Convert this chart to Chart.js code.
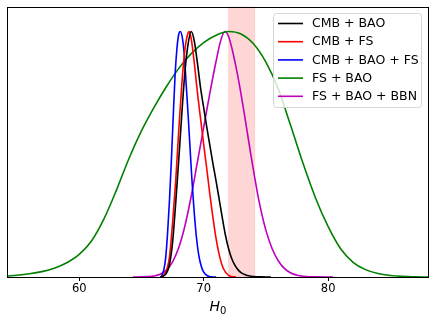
<!DOCTYPE html>
<html>
<head>
<meta charset="utf-8">
<script src="https://cdn.jsdelivr.net/npm/chart.js@4"></script>
<style>
  html, body { margin: 0; padding: 0; background: #fff; }
  #wrap { width: 436px; height: 323px; position: relative; }
</style>
</head>
<body>
<div id="wrap"><canvas id="c"></canvas></div>
<script>
// H0 posteriors (peak-normalised)
const cmbBaoX = [66.5, 66.75, 67.0, 67.25, 67.5, 67.75, 68.0, 68.25, 68.5, 68.75, 69.0, 69.25, 69.5, 69.75, 70.0, 70.25, 70.5, 70.75, 71.0, 71.25, 71.5, 71.75, 72.0, 72.25, 72.5, 72.75, 73.0, 73.25, 73.5, 74.0, 74.5, 75.4];
const cmbBaoY = [0, 0.004, 0.015, 0.05, 0.14, 0.3, 0.48, 0.67, 0.84, 0.95, 1.0, 0.96, 0.87, 0.77, 0.69, 0.61, 0.535, 0.46, 0.39, 0.315, 0.24, 0.17, 0.115, 0.075, 0.048, 0.03, 0.018, 0.011, 0.006, 0.002, 0.0005, 0];

const cmbFsX = [66.6, 66.75, 67.0, 67.25, 67.5, 67.75, 68.0, 68.25, 68.5, 68.75, 68.85, 69.0, 69.25, 69.5, 69.75, 70.0, 70.25, 70.5, 70.75, 71.0, 71.25, 71.5, 71.75, 72.0, 72.25, 72.6];
const cmbFsY = [0, 0.005, 0.025, 0.08, 0.22, 0.39, 0.6, 0.79, 0.93, 0.995, 1.0, 0.97, 0.87, 0.75, 0.645, 0.54, 0.44, 0.335, 0.24, 0.155, 0.09, 0.045, 0.02, 0.007, 0.002, 0];

const cmbBaoFsX = [66.6, 66.8, 66.95, 67.1, 67.25, 67.4, 67.55, 67.7, 67.85, 68.0, 68.13, 68.3, 68.45, 68.6, 68.75, 68.9, 69.05, 69.2, 69.4, 69.6, 69.8, 70.0, 70.3, 70.6, 71.0];
const cmbBaoFsY = [0, 0.03, 0.08, 0.18, 0.31, 0.47, 0.65, 0.82, 0.93, 0.99, 1.0, 0.97, 0.9, 0.78, 0.66, 0.53, 0.4, 0.29, 0.17, 0.09, 0.045, 0.02, 0.005, 0.001, 0];

const fsBaoX = [54.2, 55, 56, 57, 58, 59, 60, 61, 62, 63, 64, 65, 66, 67, 68, 69, 70, 71, 72, 73, 74, 75, 76, 77, 78, 79, 80, 81, 82, 83, 84, 85, 86, 87, 88.1];
const fsBaoY = [0.004, 0.007, 0.013, 0.022, 0.036, 0.058, 0.092, 0.148, 0.238, 0.355, 0.483, 0.595, 0.69, 0.775, 0.85, 0.91, 0.955, 0.985, 1.0, 0.99, 0.95, 0.875, 0.765, 0.615, 0.46, 0.32, 0.205, 0.115, 0.06, 0.03, 0.014, 0.006, 0.0025, 0.001, 0];

const fsBaoBbnX = [64.3, 65.0, 65.5, 66.0, 66.5, 67.0, 67.5, 68.0, 68.5, 69.0, 69.5, 70.0, 70.5, 71.0, 71.35, 71.7, 72.0, 72.3, 72.6, 72.9, 73.2, 73.5, 73.8, 74.1, 74.4, 74.7, 75.0, 75.5, 76.0, 76.5, 77.0, 77.5, 78.0, 79.0, 80.4];
const fsBaoBbnY = [0, 0.0005, 0.0015, 0.004, 0.011, 0.028, 0.062, 0.12, 0.21, 0.33, 0.47, 0.61, 0.75, 0.88, 0.96, 1.0, 0.98, 0.925, 0.855, 0.775, 0.685, 0.59, 0.495, 0.405, 0.32, 0.25, 0.19, 0.115, 0.065, 0.034, 0.016, 0.007, 0.003, 0.0005, 0];

const seriesLabels = ['CMB + BAO', 'CMB + FS', 'CMB + BAO + FS', 'FS + BAO', 'FS + BAO + BBN'];
const seriesColors = ['#000000', '#ff0000', '#0000ff', '#008000', '#bf00bf'];
const xTicks = [60, 70, 80];
const shoesBand = [72.0, 74.1];   // local H0 band

const xs = [cmbBaoX, cmbFsX, cmbBaoFsX, fsBaoX, fsBaoBbnX];
const ys = [cmbBaoY, cmbFsY, cmbBaoFsY, fsBaoY, fsBaoBbnY];

const FONT = 'DejaVu Sans';

const datasets = seriesLabels.map((lab, i) => ({
  label: lab,
  data: xs[i].map((x, j) => ({ x, y: ys[i][j] })),
  borderColor: seriesColors[i],
  borderWidth: 1.6,
  pointRadius: 0,
  fill: false,
  cubicInterpolationMode: 'monotone'
}));

// band under the curves
const bandPlugin = {
  id: 'band',
  beforeDatasetsDraw(chart) {
    const { ctx, chartArea: a, scales: { x } } = chart;
    const x0 = x.getPixelForValue(shoesBand[0]), x1 = x.getPixelForValue(shoesBand[1]);
    ctx.save();
    ctx.fillStyle = 'rgba(255,0,0,0.16)';
    ctx.fillRect(x0, a.top, x1 - x0, a.bottom - a.top);
    ctx.strokeStyle = 'rgba(255,0,0,0.1)';
    ctx.lineWidth = 1;
    ctx.strokeRect(x0, a.top, x1 - x0, a.bottom - a.top);
    ctx.restore();
  }
};

// axes box, legend, x label
const decoPlugin = {
  id: 'deco',
  afterDraw(chart) {
    const { ctx, chartArea: a } = chart;
    ctx.save();
    ctx.strokeStyle = '#000';
    ctx.lineWidth = 1;
    ctx.strokeRect(Math.round(a.left) + 0.5, Math.round(a.top) + 0.5, Math.round(a.right - a.left) - 1, Math.round(a.bottom - a.top));

    // legend
    const lx = 273.5, ly = 13.5, lw = 148, lh = 94, r = 3;
    ctx.beginPath();
    ctx.roundRect(lx, ly, lw, lh, r);
    ctx.fillStyle = 'rgba(255,255,255,0.8)';
    ctx.fill();
    ctx.strokeStyle = '#d6d6d6';
    ctx.stroke();
    ctx.font = '12.5px "' + FONT + '"';
    ctx.textBaseline = 'middle';
    ctx.textAlign = 'left';
    seriesLabels.forEach((lab, i) => {
      const y = 23.5 + i * 18.2;
      ctx.beginPath();
      ctx.moveTo(278, y); ctx.lineTo(303, y);
      ctx.strokeStyle = seriesColors[i];
      ctx.lineWidth = 1.6;
      ctx.stroke();
      ctx.fillStyle = '#000';
      ctx.fillText(lab, 312, y + 0.5);
    });

    // H_0
    ctx.textBaseline = 'alphabetic';
    ctx.font = 'italic 14px "' + FONT + '"';
    const wH = ctx.measureText('H').width;
    ctx.font = '10px "' + FONT + '"';
    const w0 = ctx.measureText('0').width;
    const cx = (a.left + a.right) / 2;
    const sx = cx - (wH + w0) / 2;
    ctx.font = 'italic 14px "' + FONT + '"';
    ctx.fillText('H', sx, 311);
    ctx.font = '10px "' + FONT + '"';
    ctx.fillText('0', sx + wH, 313.5);
    ctx.restore();
  }
};

new Chart(document.getElementById('c'), {
  type: 'line',
  data: { datasets },
  options: {
    responsive: true,
    maintainAspectRatio: false,
    animation: false,
    layout: { padding: { left: 7, right: 7, top: 7, bottom: 0 } },
    plugins: { legend: { display: false }, tooltip: { enabled: false } },
    scales: {
      x: {
        type: 'linear',
        min: 54.2,
        max: 88.1,
        afterBuildTicks: s => { s.ticks = xTicks.map(v => ({ value: v })); },
        afterFit: s => { s.height = 46; },
        grid: { drawOnChartArea: false, drawTicks: true, tickLength: 4, color: '#000', tickWidth: 1 },
        border: { display: false },
        ticks: { color: '#000', padding: 1, maxRotation: 0, font: { family: FONT, size: 11.5 } }
      },
      y: { min: 0, max: 1.1, display: false }
    }
  },
  plugins: [bandPlugin, decoPlugin]
});
</script>
</body>
</html>
